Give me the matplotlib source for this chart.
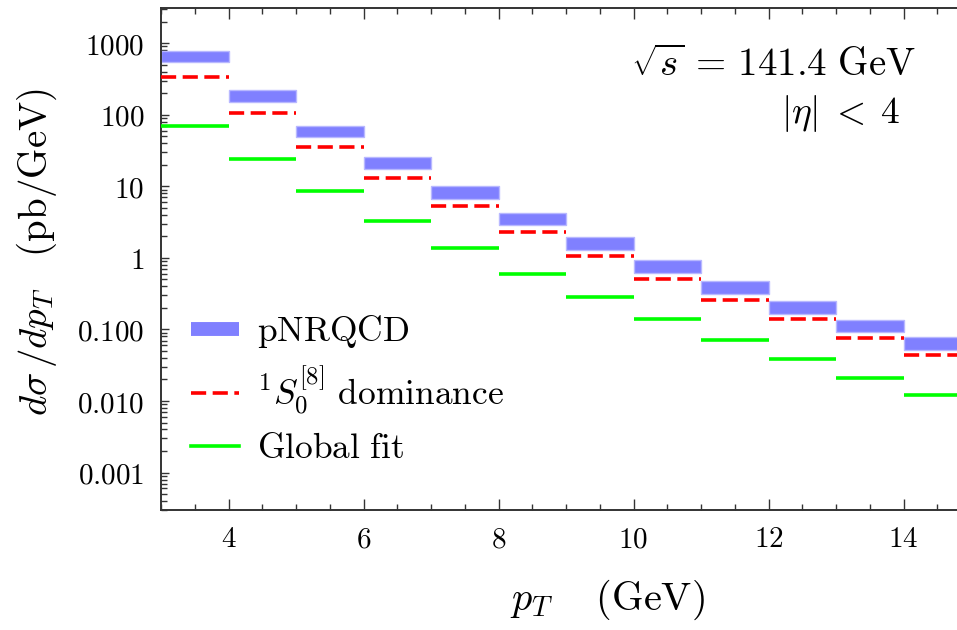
import numpy as np
import matplotlib
matplotlib.use("Agg")
import matplotlib.pyplot as plt
from matplotlib.lines import Line2D
from matplotlib.ticker import FixedLocator, FixedFormatter, MultipleLocator, LogLocator, NullFormatter

plt.rcParams["mathtext.fontset"] = "cm"
plt.rcParams["font.family"] = "serif"

# ── data (pb/GeV) ────────────────────────────────────────────────────────────
pt_edges   = [3, 4, 5, 6, 7, 8, 9, 10, 11, 12, 13, 14, 15]
pnrqcd_lo  = [543, 153, 49.1, 17.4, 6.69, 2.85, 1.30, 0.619, 0.312, 0.166, 0.0908, 0.0515]
pnrqcd_hi  = [780, 223, 70.6, 25.6, 10.07, 4.22, 1.93, 0.931, 0.474, 0.249, 0.136, 0.0773]
s08_dom    = [342, 105, 35.6, 13.0, 5.29, 2.28, 1.05, 0.511, 0.260, 0.138, 0.0766, 0.0433]
global_fit = [70.0, 23.7, 8.57, 3.30, 1.37, 0.600, 0.284, 0.138, 0.0718, 0.0381, 0.0211, 0.0121]

ytick_vals   = [1000, 100, 10, 1, 0.1, 0.01, 0.001]
ytick_labels = ["1000", "100", "10", "1", "0.100", "0.010", "0.001"]

BLUE  = "#8080ff"
RED   = "#ff0000"
GREEN = "#00ff00"
SPINE = "#333333"

# ── figure ───────────────────────────────────────────────────────────────────
fig = plt.figure(figsize=(9.57, 6.30), dpi=100)
# axes run past the right edge on purpose: the reference is cropped there
ax = fig.add_axes([161 / 957, 1 - 510 / 630, 810 / 957, 502 / 630])

lo = np.array(pt_edges[:-1], dtype=float)
hi = np.array(pt_edges[1:], dtype=float)
band_lo = np.array(pnrqcd_lo)
band_hi = np.array(pnrqcd_hi)

ax.bar(lo, band_hi - band_lo, bottom=band_lo, width=hi - lo, align="edge",
       color=BLUE, edgecolor="#b8b8ff", linewidth=1.0, zorder=2)
ax.hlines(s08_dom, lo, hi, colors=RED, linewidth=2.6,
          linestyles=(0, (4.2, 1.8)), zorder=3)
ax.hlines(global_fit, lo, hi, colors=GREEN, linewidth=2.6, zorder=3)

ax.set_yscale("log")
ax.set_xlim(3, 15)
ax.set_ylim(3.0e-4, 3.1e3)

# ── ticks ────────────────────────────────────────────────────────────────────
ax.xaxis.set_major_locator(MultipleLocator(2))
ax.xaxis.set_minor_locator(MultipleLocator(0.5))
ax.xaxis.set_major_formatter(plt.FuncFormatter(lambda v, p: rf"$\mathrm{{{int(v)}}}$"))
ax.yaxis.set_major_locator(FixedLocator(ytick_vals))
ax.yaxis.set_major_formatter(FixedFormatter([rf"$\mathrm{{{t}}}$" for t in ytick_labels]))
ax.yaxis.set_minor_locator(LogLocator(base=10, subs=np.arange(2, 10), numticks=20))
ax.yaxis.set_minor_formatter(NullFormatter())

ax.tick_params(which="both", direction="in", top=True, right=False,
               color=SPINE, labelsize=21, width=1.0)
ax.tick_params(which="major", length=8, pad=11)
ax.tick_params(which="minor", length=4)
ax.tick_params(axis="y", which="major", length=6, pad=12)
for side in ("left", "bottom", "top"):
    ax.spines[side].set_color(SPINE)
    ax.spines[side].set_linewidth(1.4)
ax.spines["right"].set_visible(False)

# ── labels ───────────────────────────────────────────────────────────────────
fig.text(607 / 957, 1 - 600 / 630, r"$p_T\quad\;(\mathrm{GeV})$",
         ha="center", va="center", fontsize=29)
fig.text(37 / 957, 1 - 252 / 630, r"$d\sigma\,/dp_T\quad(\mathrm{pb/GeV})$",
         ha="center", va="center", rotation=90, fontsize=28)

ax.text(0.932, 0.885, r"$\sqrt{s}\,=\,141.4\ \mathrm{GeV}$", transform=ax.transAxes,
        ha="right", va="center", fontsize=28)
ax.text(0.913, 0.79, r"$|\eta|\;<\;4$", transform=ax.transAxes,
        ha="right", va="center", fontsize=27)

# ── legend ───────────────────────────────────────────────────────────────────
handles = [
    Line2D([], [], color=BLUE, linewidth=10, solid_capstyle="butt"),
    Line2D([], [], color=RED, linewidth=2.6, linestyle=(0, (4.2, 1.8))),
    Line2D([], [], color=GREEN, linewidth=2.6),
]
labels = [r"$\mathrm{pNRQCD}$",
          r"$^{1}S_0^{[8]}\ \mathrm{dominance}$",
          r"$\mathrm{Global\ fit}$"]
ax.legend(handles, labels, loc="upper left", bbox_to_anchor=(0.02, 0.42),
          frameon=False, fontsize=25.5, handlelength=1.35, handletextpad=0.5,
          labelspacing=0.4, borderaxespad=0)

fig.savefig("out.png", dpi=100)
